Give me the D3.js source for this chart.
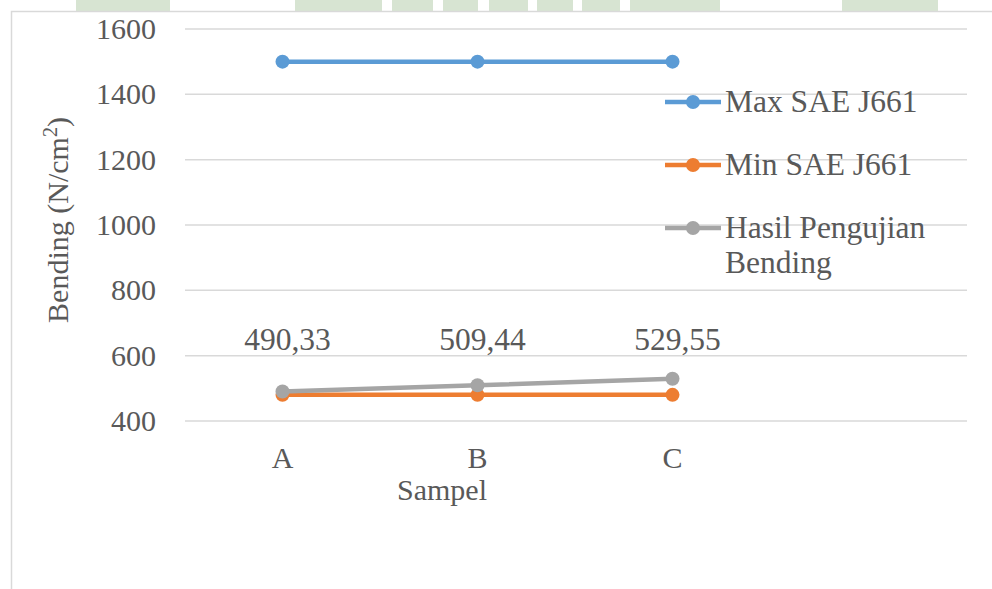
<!DOCTYPE html>
<html>
<head>
<meta charset="utf-8">
<script src="https://cdn.jsdelivr.net/npm/d3@7"></script>
<style>
  body { margin: 0; background: #fff; }
  svg text { font-family: "Liberation Serif", "Times New Roman", "DejaVu Serif", serif !important; fill: #595959; }
</style>
</head>
<body>
<div id="chart"></div>
<script>
// data
const categories = ["A", "B", "C"];
const maxSAE = [1500, 1500, 1500];
const minSAE = [480, 480, 480];
const hasil = [490.33, 509.44, 529.55];
const hasilLabels = ["490,33", "509,44", "529,55"];
const yTicks = [400, 600, 800, 1000, 1200, 1400, 1600];

const series = [
    { name: ["Max SAE J661"], values: maxSAE, color: "#5B9BD5" },
    { name: ["Min SAE J661"], values: minSAE, color: "#ED7D31" },
    { name: ["Hasil Pengujian", "Bending"], values: hasil, color: "#A5A5A5" }
];

// pale green strip across the top (scan background)
const stripe = [[76, 170], [295, 382], [392, 433], [443, 478], [489, 528],
    [537, 573], [582, 620], [630, 720], [842, 938]];

var width = 992;
var height = 589;
const serif = "'Liberation Serif', 'Times New Roman', serif";

var svg = d3.select("#chart")
    .append("svg")
    .attr("width", width)
    .attr("height", height)
    .attr("font-family", serif);

svg.append("g")
    .selectAll("rect")
    .data(stripe)
    .enter().append("rect")
    .attr("x", d => d[0])
    .attr("y", 0)
    .attr("width", d => d[1] - d[0])
    .attr("height", 11)
    .attr("fill", "#d7e4d2");

// chart frame, cut off at right and bottom
svg.append("rect")
    .attr("x", 11.5)
    .attr("y", 11.5)
    .attr("width", 1000)
    .attr("height", 600)
    .attr("fill", "#fff")
    .attr("stroke", "#d9d9d9")
    .attr("stroke-width", 1.5);

const plotLeft = 185, plotRight = 967;

var y = d3.scaleLinear()
    .domain([400, 1600])
    .range([421, 29]);

var x = d3.scaleBand()
    .domain(categories)
    .range([plotLeft, plotLeft + 585]);

// gridlines
svg.append("g")
    .selectAll("line")
    .data(yTicks)
    .enter().append("line")
    .attr("x1", plotLeft)
    .attr("x2", plotRight)
    .attr("y1", d => y(d))
    .attr("y2", d => y(d))
    .attr("stroke", "#d9d9d9")
    .attr("stroke-width", 1.5);

// y axis labels
var yAxis = svg.append("g")
    .attr("transform", "translate(" + (plotLeft - 29) + ",0)")
    .call(d3.axisLeft(y).tickValues(yTicks).tickFormat(d3.format("d")).tickSize(0).tickPadding(0))
    .attr("font-family", serif)
    .attr("font-size", 30);
yAxis.select(".domain").remove();
yAxis.selectAll("text").attr("fill", "#595959");

// x axis labels
var xAxis = svg.append("g")
    .attr("transform", "translate(0," + y(400) + ")")
    .call(d3.axisBottom(x).tickSize(0).tickPadding(26))
    .attr("font-family", serif)
    .attr("font-size", 30);
xAxis.select(".domain").remove();
xAxis.selectAll("text").attr("fill", "#595959");

// axis titles
svg.append("text")
    .attr("x", 442)
    .attr("y", 500)
    .attr("text-anchor", "middle")
    .attr("font-size", 30)
    .text("Sampel");

var yTitle = svg.append("text")
    .attr("transform", "translate(68,220) rotate(-90)")
    .attr("text-anchor", "middle")
    .attr("font-size", 30);
yTitle.append("tspan").text("Bending (N/cm");
yTitle.append("tspan").attr("font-size", 20).attr("dy", -11).text("2");
yTitle.append("tspan").attr("dy", 11).text(")");

// lines and markers
var line = d3.line()
    .x((d, i) => x(categories[i]) + x.bandwidth() / 2)
    .y(d => y(d));

series.forEach(s => {
    svg.append("path")
        .datum(s.values)
        .attr("d", line)
        .attr("fill", "none")
        .attr("stroke", s.color)
        .attr("stroke-width", 4.5)
        .attr("stroke-linecap", "round");
    svg.append("g")
        .selectAll("circle")
        .data(s.values)
        .enter().append("circle")
        .attr("cx", (d, i) => x(categories[i]) + x.bandwidth() / 2)
        .attr("cy", d => y(d))
        .attr("r", 7)
        .attr("fill", s.color);
});

// data labels of the test results
svg.append("g")
    .selectAll("text")
    .data(hasilLabels)
    .enter().append("text")
    .attr("x", (d, i) => x(categories[i]) + x.bandwidth() / 2 + 5)
    .attr("y", y(600) - 6)
    .attr("text-anchor", "middle")
    .attr("font-size", 31.5)
    .text(d => d);

// legend
var legend = svg.append("g")
    .selectAll("g")
    .data(series)
    .enter().append("g")
    .attr("transform", (d, i) => "translate(665," + (102 + i * 63) + ")");

legend.append("line")
    .attr("x1", 0)
    .attr("x2", 56)
    .attr("stroke", d => d.color)
    .attr("stroke-width", 4.5);
legend.append("circle")
    .attr("cx", 28)
    .attr("r", 7)
    .attr("fill", d => d.color);
legend.append("text")
    .attr("x", 60)
    .attr("y", 10)
    .attr("font-size", 31.5)
    .selectAll("tspan")
    .data(d => d.name)
    .enter().append("tspan")
    .attr("x", 60)
    .attr("dy", (d, i) => i ? 35 : 0)
    .text(d => d);
</script>
</body>
</html>
